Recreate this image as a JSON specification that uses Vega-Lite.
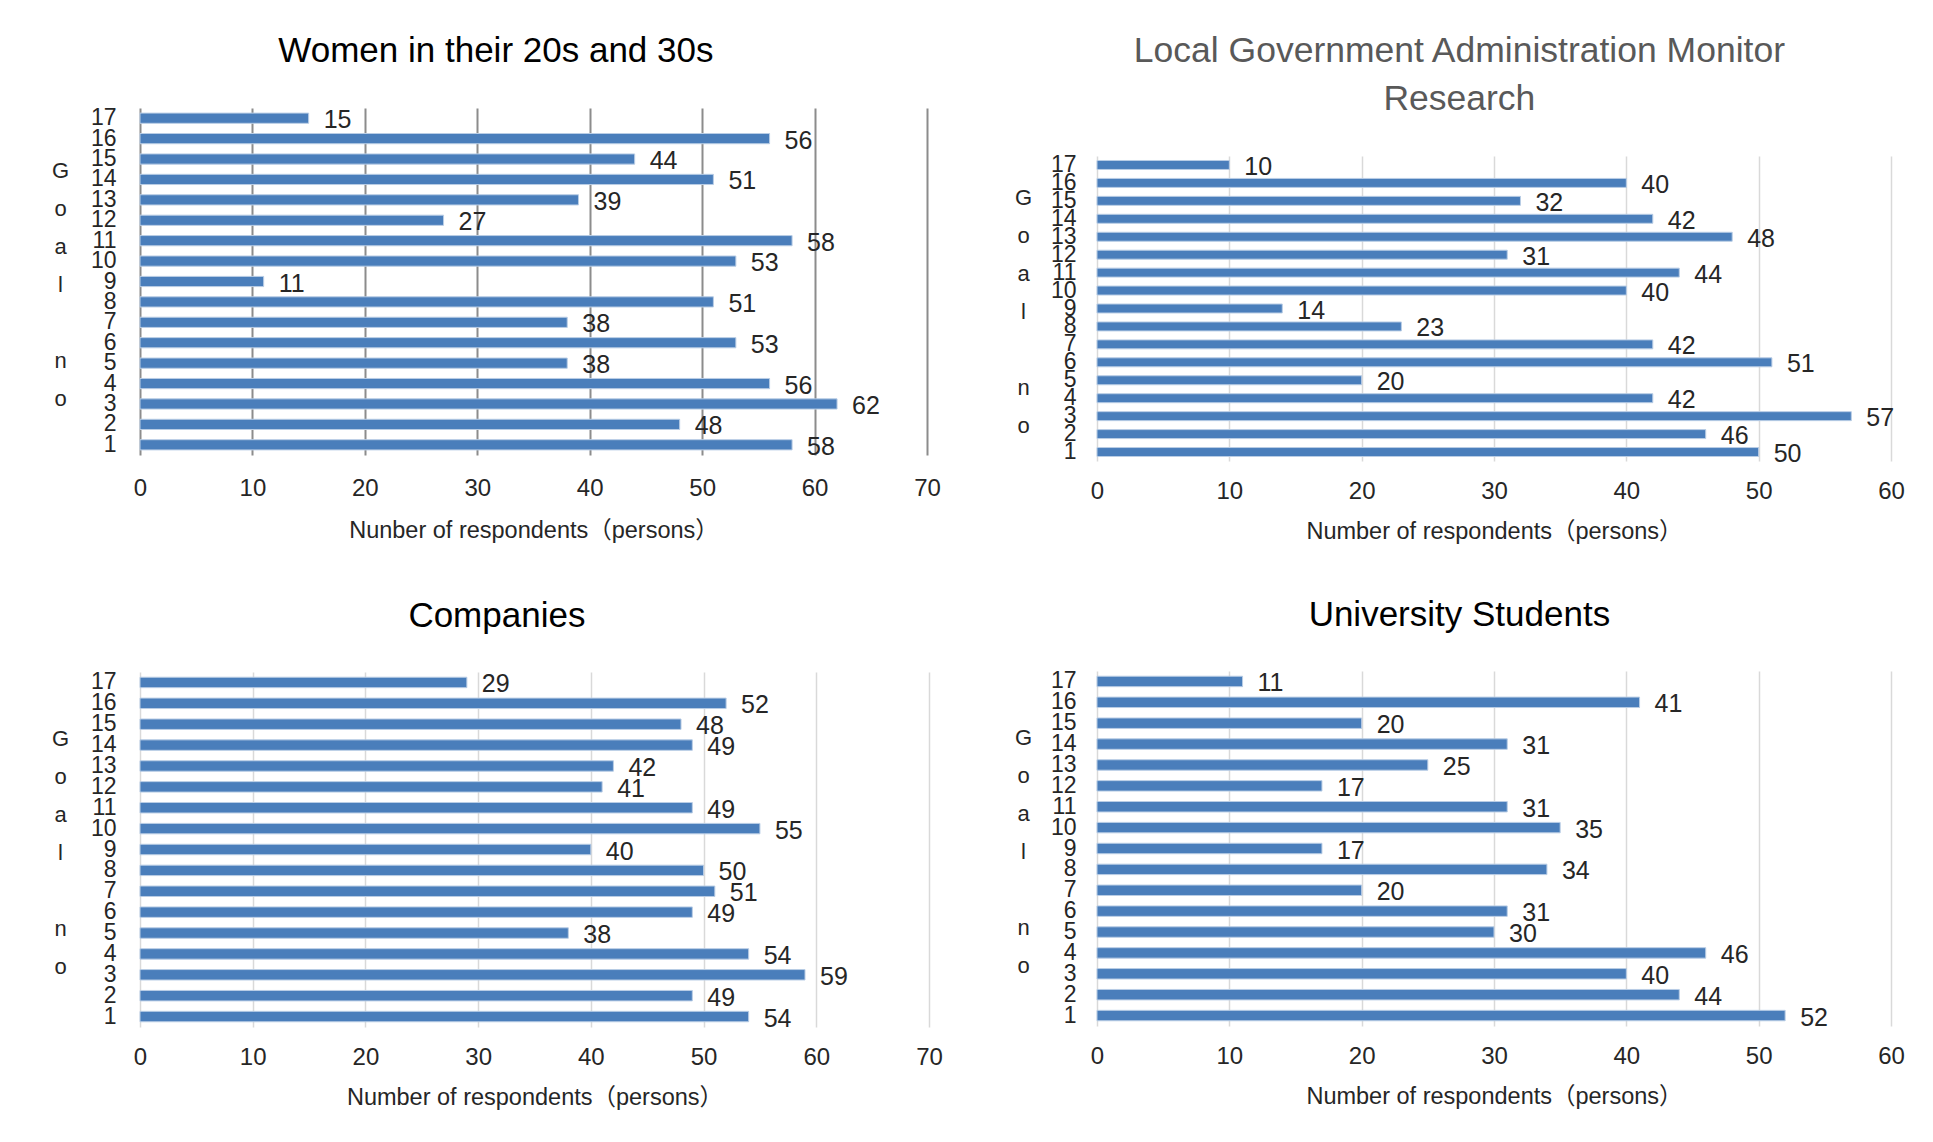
{
  "$schema": "https://vega.github.io/schema/vega-lite/v6.json",
  "padding": {"left": 51, "top": 31, "right": 5, "bottom": 5},
  "background": "white",
  "config": {
    "view": {"stroke": null},
    "font": "Liberation Sans, Noto Sans CJK JP",
    "axis": {
      "labelFont": "Liberation Sans, Noto Sans CJK JP",
      "titleFont": "Liberation Sans, Noto Sans CJK JP",
      "labelFontSize": 24,
      "labelColor": "#262626",
      "titleColor": "#262626",
      "titleFontWeight": "normal",
      "domain": false,
      "ticks": false,
      "tickSize": 0,
      "labelFlush": false
    },
    "axisY": {"labelFontSize": 23},
    "title": {"font": "Liberation Sans, Noto Sans CJK JP", "fontWeight": "normal", "fontSize": 35, "anchor": "middle", "frame": "bounds", "color": "#000000", "offset": 37}
  },
  "datasets": {
    "women": [
      {"goal": 1, "count": 58}, {"goal": 2, "count": 48}, {"goal": 3, "count": 62}, {"goal": 4, "count": 56},
      {"goal": 5, "count": 38}, {"goal": 6, "count": 53}, {"goal": 7, "count": 38}, {"goal": 8, "count": 51},
      {"goal": 9, "count": 11}, {"goal": 10, "count": 53}, {"goal": 11, "count": 58}, {"goal": 12, "count": 27},
      {"goal": 13, "count": 39}, {"goal": 14, "count": 51}, {"goal": 15, "count": 44}, {"goal": 16, "count": 56},
      {"goal": 17, "count": 15}
    ],
    "local": [
      {"goal": 1, "count": 50}, {"goal": 2, "count": 46}, {"goal": 3, "count": 57}, {"goal": 4, "count": 42},
      {"goal": 5, "count": 20}, {"goal": 6, "count": 51}, {"goal": 7, "count": 42}, {"goal": 8, "count": 23},
      {"goal": 9, "count": 14}, {"goal": 10, "count": 40}, {"goal": 11, "count": 44}, {"goal": 12, "count": 31},
      {"goal": 13, "count": 48}, {"goal": 14, "count": 42}, {"goal": 15, "count": 32}, {"goal": 16, "count": 40},
      {"goal": 17, "count": 10}
    ],
    "companies": [
      {"goal": 1, "count": 54}, {"goal": 2, "count": 49}, {"goal": 3, "count": 59}, {"goal": 4, "count": 54},
      {"goal": 5, "count": 38}, {"goal": 6, "count": 49}, {"goal": 7, "count": 51}, {"goal": 8, "count": 50},
      {"goal": 9, "count": 40}, {"goal": 10, "count": 55}, {"goal": 11, "count": 49}, {"goal": 12, "count": 41},
      {"goal": 13, "count": 42}, {"goal": 14, "count": 49}, {"goal": 15, "count": 48}, {"goal": 16, "count": 52},
      {"goal": 17, "count": 29}
    ],
    "students": [
      {"goal": 1, "count": 52}, {"goal": 2, "count": 44}, {"goal": 3, "count": 40}, {"goal": 4, "count": 46},
      {"goal": 5, "count": 30}, {"goal": 6, "count": 31}, {"goal": 7, "count": 20}, {"goal": 8, "count": 34},
      {"goal": 9, "count": 17}, {"goal": 10, "count": 35}, {"goal": 11, "count": 31}, {"goal": 12, "count": 17},
      {"goal": 13, "count": 25}, {"goal": 14, "count": 31}, {"goal": 15, "count": 20}, {"goal": 16, "count": 41},
      {"goal": 17, "count": 11}
    ],
    "blank": [{}]
  },
  "spacing": 71,
  "hconcat": [
    {
      "spacing": 0,
      "vconcat": [
        {"width": 1, "height": 1, "data": {"name": "blank"}, "mark": {"type": "rule", "opacity": 0}, "encoding": {}},
        {
          "spacing": 56,
          "vconcat": [
            {
              "title": {"text": "Women in their 20s and 30s", "offset": 38},
              "width": 787, "height": 347,
              "data": {"name": "women"},
              "encoding": {
                "y": {"field": "goal", "type": "ordinal", "sort": "descending",
                      "scale": {"paddingInner": 0.5, "paddingOuter": 0.25},
                      "axis": {"title": ["G", "o", "a", "l", "\u2800", "n", "o"], "titleAngle": 0, "titleAlign": "center", "titleBaseline": "middle",
                               "titleX": -80, "titleY": 62, "titleFontSize": 22, "titleLineHeight": 38, "labelPadding": 24, "grid": false}},
                "x": {"field": "count", "type": "quantitative",
                      "scale": {"domain": [0, 70], "nice": false},
                      "axis": {"values": [0, 10, 20, 30, 40, 50, 60, 70], "title": "Nunber of respondents（persons）", "titleFontSize": 23.5,
                               "labelPadding": 21, "titlePadding": 18, "grid": true, "gridColor": "#8c8c8c", "gridWidth": 2}}
              },
              "layer": [
                {"mark": {"type": "bar", "color": "#4a7ebb", "stroke": "#b9cde5", "strokeWidth": 1}},
                {"mark": {"type": "text", "align": "left", "baseline": "middle", "dx": 15, "dy": 2, "fontSize": 25, "color": "#262626"},
                 "encoding": {"text": {"field": "count", "type": "quantitative"}}}
              ]
            },
            {
              "title": {"text": "Companies"},
              "width": 789, "height": 355,
              "data": {"name": "companies"},
              "encoding": {
                "y": {"field": "goal", "type": "ordinal", "sort": "descending",
                      "scale": {"paddingInner": 0.5, "paddingOuter": 0.25},
                      "axis": {"title": ["G", "o", "a", "l", "\u2800", "n", "o"], "titleAngle": 0, "titleAlign": "center", "titleBaseline": "middle",
                               "titleX": -80, "titleY": 66, "titleFontSize": 22, "titleLineHeight": 38, "labelPadding": 24, "grid": false}},
                "x": {"field": "count", "type": "quantitative",
                      "scale": {"domain": [0, 70], "nice": false},
                      "axis": {"values": [0, 10, 20, 30, 40, 50, 60, 70], "title": "Number of respondents（persons）", "titleFontSize": 23.5,
                               "labelPadding": 18, "titlePadding": 16, "grid": true, "gridColor": "#d9d9d9", "gridWidth": 1.5}}
              },
              "layer": [
                {"mark": {"type": "bar", "color": "#4a7ebb", "stroke": "#b9cde5", "strokeWidth": 1}},
                {"mark": {"type": "text", "align": "left", "baseline": "middle", "dx": 15, "dy": 2, "fontSize": 25, "color": "#262626"},
                 "encoding": {"text": {"field": "count", "type": "quantitative"}}}
              ]
            }
          ]
        }
      ]
    },
    {
      "spacing": 0,
      "vconcat": [
        {"width": 1, "height": 1, "data": {"name": "blank"}, "mark": {"type": "rule", "opacity": 0}, "encoding": {}},
        {
          "spacing": 54,
          "vconcat": [
            {
              "title": {"text": ["Local Government Administration Monitor", "Research"], "color": "#595959", "lineHeight": 48, "fontSize": 35.5, "offset": 36},
              "width": 794, "height": 305,
              "data": {"name": "local"},
              "encoding": {
                "y": {"field": "goal", "type": "ordinal", "sort": "descending",
                      "scale": {"paddingInner": 0.5, "paddingOuter": 0.25},
                      "axis": {"title": ["G", "o", "a", "l", "\u2800", "n", "o"], "titleAngle": 0, "titleAlign": "center", "titleBaseline": "middle",
                               "titleX": -74, "titleY": 41, "titleFontSize": 22, "titleLineHeight": 38, "labelPadding": 21, "grid": false}},
                "x": {"field": "count", "type": "quantitative",
                      "scale": {"domain": [0, 60], "nice": false},
                      "axis": {"values": [0, 10, 20, 30, 40, 50, 60], "title": "Number of respondents（persons）", "titleFontSize": 23.5,
                               "labelPadding": 18, "titlePadding": 16, "grid": true, "gridColor": "#d9d9d9", "gridWidth": 1.5}}
              },
              "layer": [
                {"mark": {"type": "bar", "color": "#4a7ebb", "stroke": "#b9cde5", "strokeWidth": 1}},
                {"mark": {"type": "text", "align": "left", "baseline": "middle", "dx": 15, "dy": 2, "fontSize": 25, "color": "#262626"},
                 "encoding": {"text": {"field": "count", "type": "quantitative"}}}
              ]
            },
            {
              "title": {"text": "University Students"},
              "width": 794, "height": 355,
              "data": {"name": "students"},
              "encoding": {
                "y": {"field": "goal", "type": "ordinal", "sort": "descending",
                      "scale": {"paddingInner": 0.5, "paddingOuter": 0.25},
                      "axis": {"title": ["G", "o", "a", "l", "\u2800", "n", "o"], "titleAngle": 0, "titleAlign": "center", "titleBaseline": "middle",
                               "titleX": -74, "titleY": 66, "titleFontSize": 22, "titleLineHeight": 38, "labelPadding": 21, "grid": false}},
                "x": {"field": "count", "type": "quantitative",
                      "scale": {"domain": [0, 60], "nice": false},
                      "axis": {"values": [0, 10, 20, 30, 40, 50, 60], "title": "Number of respondents（persons）", "titleFontSize": 23.5,
                               "labelPadding": 18, "titlePadding": 16, "grid": true, "gridColor": "#d9d9d9", "gridWidth": 1.5}}
              },
              "layer": [
                {"mark": {"type": "bar", "color": "#4a7ebb", "stroke": "#b9cde5", "strokeWidth": 1}},
                {"mark": {"type": "text", "align": "left", "baseline": "middle", "dx": 15, "dy": 2, "fontSize": 25, "color": "#262626"},
                 "encoding": {"text": {"field": "count", "type": "quantitative"}}}
              ]
            }
          ]
        }
      ]
    }
  ]
}
